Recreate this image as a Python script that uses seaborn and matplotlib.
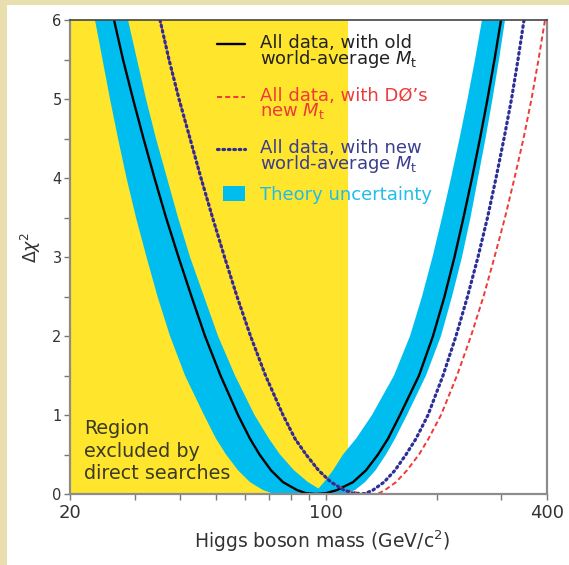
import numpy as np
import pandas as pd
import matplotlib
matplotlib.use("Agg")
import matplotlib.pyplot as plt
import seaborn as sns
from matplotlib.patches import Rectangle, Patch
from matplotlib.lines import Line2D
from matplotlib.legend_handler import HandlerLine2D, HandlerPatch
from matplotlib.ticker import FixedLocator, FixedFormatter, NullFormatter

# ---------------- data ----------------
excl_limit = 114.4  # GeV, region excluded by direct searches

black_mass = [26.37, 27.90, 29.71, 31.73, 34.00, 36.55, 39.53, 42.90, 46.69, 51.47, 57.45,
              61.94, 65.75, 70.68, 76.21, 83.21, 88.05, 93.76,
              99.84, 106.98, 118.29, 128.35, 138.40, 147.37, 158.90, 179.04, 195.50,
              210.14, 223.76, 236.78, 249.76, 262.63, 275.30, 287.67, 299.65]
black_chi = [6.0, 5.5, 5.0, 4.5, 4.0, 3.5, 3.0, 2.5, 2.0, 1.5, 1.0,
             0.7, 0.5, 0.3, 0.15, 0.05, 0.01, 0.0,
             0.01, 0.05, 0.15, 0.3, 0.5, 0.7, 1.0, 1.5, 2.0,
             2.5, 3.0, 3.5, 4.0, 4.5, 5.0, 5.5, 6.0]

blue_mass = [35.20, 37.24, 39.66, 42.50, 45.53, 48.95, 52.78, 57.09, 62.14, 68.28, 76.21,
             82.17, 88.05, 95.24, 103.02, 111.79, 118.29, 125.17,
             128.35, 134.12, 143.71, 153.99, 165.01, 175.70, 189.46, 208.17, 225.88,
             242.80, 259.35, 275.30, 290.39, 305.35, 320.08, 333.42, 346.22]
blue_chi = [6.0, 5.5, 5.0, 4.5, 4.0, 3.5, 3.0, 2.5, 2.0, 1.5, 1.0,
            0.7, 0.5, 0.3, 0.15, 0.05, 0.01, 0.0,
            0.01, 0.05, 0.15, 0.3, 0.5, 0.7, 1.0, 1.5, 2.0,
            2.5, 3.0, 3.5, 4.0, 4.5, 5.0, 5.5, 6.0]

red_mass = [35.20, 37.24, 39.66, 42.50, 45.53, 48.95, 52.78, 57.09, 62.14, 68.28, 76.21,
            82.17, 88.05, 95.24, 103.02, 112.49, 120.54, 128.35, 135.81,
            139.27, 144.62, 154.96, 166.05, 179.04, 190.05, 205.57, 227.30, 248.19,
            268.47, 287.67, 307.28, 326.17, 345.14, 362.92, 379.23, 395.03]
red_chi = [6.0, 5.5, 5.0, 4.5, 4.0, 3.5, 3.0, 2.5, 2.0, 1.5, 1.0,
           0.7, 0.5, 0.3, 0.15, 0.05, 0.02, 0.005, 0.0,
           0.01, 0.05, 0.15, 0.3, 0.5, 0.7, 1.0, 1.5, 2.0,
           2.5, 3.0, 3.5, 4.0, 4.5, 5.0, 5.5, 6.0]

# theory-uncertainty band: outer (lower) edge left->right, inner (upper) edge right->left
band_outer_mass = [23.40, 24.53, 25.71, 27.04, 28.52, 30.27, 32.34, 34.65, 37.48, 41.18,
                   46.40, 50.03, 53.28, 57.45, 61.94, 67.21, 71.12, 74.79,
                   110.39, 114.63, 119.78, 127.55, 136.24, 145.53, 153.99, 166.05, 187.09,
                   205.57, 220.28, 234.55, 247.42, 259.35, 271.86, 284.07, 295.91, 307.28]
band_outer_chi = [6.0, 5.5, 5.0, 4.5, 4.0, 3.5, 3.0, 2.5, 2.0, 1.5,
                  1.0, 0.7, 0.5, 0.3, 0.15, 0.05, 0.01, 0.0,
                  0.0, 0.01, 0.05, 0.15, 0.3, 0.5, 0.7, 1.0, 1.5,
                  2.0, 2.5, 3.0, 3.5, 4.0, 4.5, 5.0, 5.5, 6.0]
band_inner_mass = [265.95, 254.51, 242.80, 230.90, 218.90, 206.87, 194.89, 182.45, 169.20,
                   153.03, 133.28, 120.54, 111.09, 104.32, 98.59, 95.24,
                   89.17, 81.66, 74.79, 69.79, 63.72, 56.37, 50.67, 46.40, 42.50,
                   39.41, 36.78, 34.32, 32.24, 30.46, 28.79]
band_inner_chi = [6.0, 5.5, 5.0, 4.5, 4.0, 3.5, 3.0, 2.5, 2.0,
                  1.5, 1.0, 0.7, 0.5, 0.3, 0.15, 0.07,
                  0.15, 0.3, 0.5, 0.7, 1.0, 1.5, 2.0, 2.5, 3.0,
                  3.5, 4.0, 4.5, 5.0, 5.5, 6.0]

x_major = [20, 100, 400]
x_major_labels = ["20", "100", "400"]
x_minor = [30, 40, 50, 60, 70, 80, 90, 200, 300]
y_major = [0, 1, 2, 3, 4, 5, 6]
y_minor = [0.5, 1.5, 2.5, 3.5, 4.5, 5.5]

legend_labels = ["All data, with old\nworld-average $M_\\mathrm{t}$",
                 "All data, with D\u00d8\u2019s\nnew $M_\\mathrm{t}$",
                 "All data, with new\nworld-average $M_\\mathrm{t}$"]
band_label = "Theory uncertainty"

# ---------------- styling ----------------
yellow = "#ffe52c"
cyan = "#00bdef"
red = "#ee3a3a"
navy = "#2b2f96"
beige = "#e9dfae"

sns.set_theme(style="ticks")
plt.rcParams["font.family"] = ["DejaVu Sans"]
plt.rcParams["mathtext.fontset"] = "dejavusans"

W, H = 569, 565
fig = plt.figure(figsize=(W / 100, H / 100), dpi=100)
fig.patch.set_facecolor(beige)
fig.add_artist(Rectangle((7 / W, 0), 1, 1 - 5 / H, transform=fig.transFigure,
                         facecolor="white", edgecolor="none", zorder=-10))
ax = fig.add_axes([70 / W, 1 - 494 / H, 477 / W, 474 / H])
ax.set_facecolor("white")

ax.set_xscale("log")
ax.axvspan(20, excl_limit, color=yellow, lw=0, zorder=0)

ax.fill(np.concatenate([band_outer_mass, band_inner_mass]),
        np.concatenate([band_outer_chi, band_inner_chi]),
        color=cyan, lw=0, zorder=1)

df_black = pd.DataFrame({"m": black_mass, "chi": black_chi})
df_red = pd.DataFrame({"m": red_mass, "chi": red_chi})
df_blue = pd.DataFrame({"m": blue_mass, "chi": blue_chi})

red_ls = (0, (2.6, 1.6))
blue_ls = (0, (0.5, 1.2))
sns.lineplot(data=df_black, x="m", y="chi", ax=ax, color="black", lw=1.7,
             sort=False, estimator=None, zorder=3)
sns.lineplot(data=df_red, x="m", y="chi", ax=ax, color=red, lw=1.4,
             linestyle=red_ls, sort=False, estimator=None, zorder=3)
sns.lineplot(data=df_blue, x="m", y="chi", ax=ax, color=navy, lw=2.3,
             linestyle=blue_ls, dash_capstyle="round",
             sort=False, estimator=None, zorder=4)

ax.set_xlim(20, 400)
ax.set_ylim(0, 6)
ax.xaxis.set_major_locator(FixedLocator(x_major))
ax.xaxis.set_major_formatter(FixedFormatter(x_major_labels))
ax.xaxis.set_minor_locator(FixedLocator(x_minor))
ax.xaxis.set_minor_formatter(NullFormatter())
ax.yaxis.set_major_locator(FixedLocator(y_major))
ax.yaxis.set_minor_locator(FixedLocator(y_minor))

ax.tick_params(which="both", direction="out", length=4, width=1.0,
               color="#777777", labelcolor="#333333")
ax.tick_params(axis="x", which="both", labelsize=13, pad=3)
ax.tick_params(axis="y", which="both", labelsize=10.5, pad=2)
for side in ["left", "bottom", "right"]:
    ax.spines[side].set_color("#8c8c8c")
    ax.spines[side].set_linewidth(1.6)
ax.spines["top"].set_color("#444444")
ax.spines["top"].set_linewidth(1.2)
for s in ax.spines.values():
    s.set_zorder(6)

ax.set_xlabel("Higgs boson mass (GeV/c$^2$)", fontsize=13.5, color="#333333", labelpad=5)
ax.xaxis.label.set_x(0.528)
ax.set_ylabel("$\\Delta\\chi^2$", fontsize=12.5, color="#333333", labelpad=7)
ax.yaxis.label.set_y(0.52)

ax.text(0.03, 0.158, "Region\nexcluded by\ndirect searches", transform=ax.transAxes,
        ha="left", va="top", fontsize=13.8, color="#3a3a28", linespacing=1.24, zorder=5)


class FirstLineHandler(HandlerLine2D):
    """Legend line drawn level with the first line of a two-line label."""
    def __init__(self, shift=0.0, **kw):
        super().__init__(**kw)
        self.shift = shift

    def create_artists(self, legend, orig_handle, xdescent, ydescent, width, height,
                       fontsize, trans):
        arts = super().create_artists(legend, orig_handle, xdescent, ydescent, width,
                                      height, fontsize, trans)
        for a in arts:
            a.set_ydata(np.asarray(a.get_ydata(), dtype=float) + self.shift)
        return arts


def square_patch(legend, orig_handle, xdescent, ydescent, width, height, fontsize):
    w, h = 1.2 * fontsize, 0.82 * fontsize
    return Rectangle((width - w - xdescent, -ydescent + (height - h) / 2), w, h)


FS = 13
h_black = Line2D([], [], color="black", lw=1.7)
h_red = Line2D([], [], color=red, lw=1.4, linestyle=red_ls)
h_blue = Line2D([], [], color=navy, lw=2.3, linestyle=blue_ls, dash_capstyle="round")
h_band = Patch(facecolor=cyan, edgecolor="none")
shift = 0.45 * FS
leg_x = 0.308
leg = ax.legend([h_black, h_red, h_blue], legend_labels,
                loc="upper left", bbox_to_anchor=(leg_x, 0.9705),
                frameon=False, fontsize=FS, handlelength=1.55, handleheight=0.8,
                handletextpad=0.83, labelspacing=0.95, borderpad=0, borderaxespad=0,
                handler_map={h_black: FirstLineHandler(shift),
                             h_red: FirstLineHandler(shift),
                             h_blue: FirstLineHandler(shift)})
for t, c in zip(leg.get_texts(), ["#222222", red, "#3b3e8e"]):
    t.set_color(c)
    t.set_linespacing(0.75)
leg.set_zorder(7)
ax.add_artist(leg)

leg2 = ax.legend([h_band], [band_label], loc="center left",
                 bbox_to_anchor=(leg_x, (494 - 195) / 474),
                 frameon=False, fontsize=FS, handlelength=1.55, handleheight=0.8,
                 handletextpad=0.83, borderpad=0, borderaxespad=0,
                 handler_map={h_band: HandlerPatch(patch_func=square_patch)})
leg2.get_texts()[0].set_color("#1fbde8")
leg2.set_zorder(7)

fig.savefig("out.png", dpi=100, facecolor=fig.get_facecolor())
